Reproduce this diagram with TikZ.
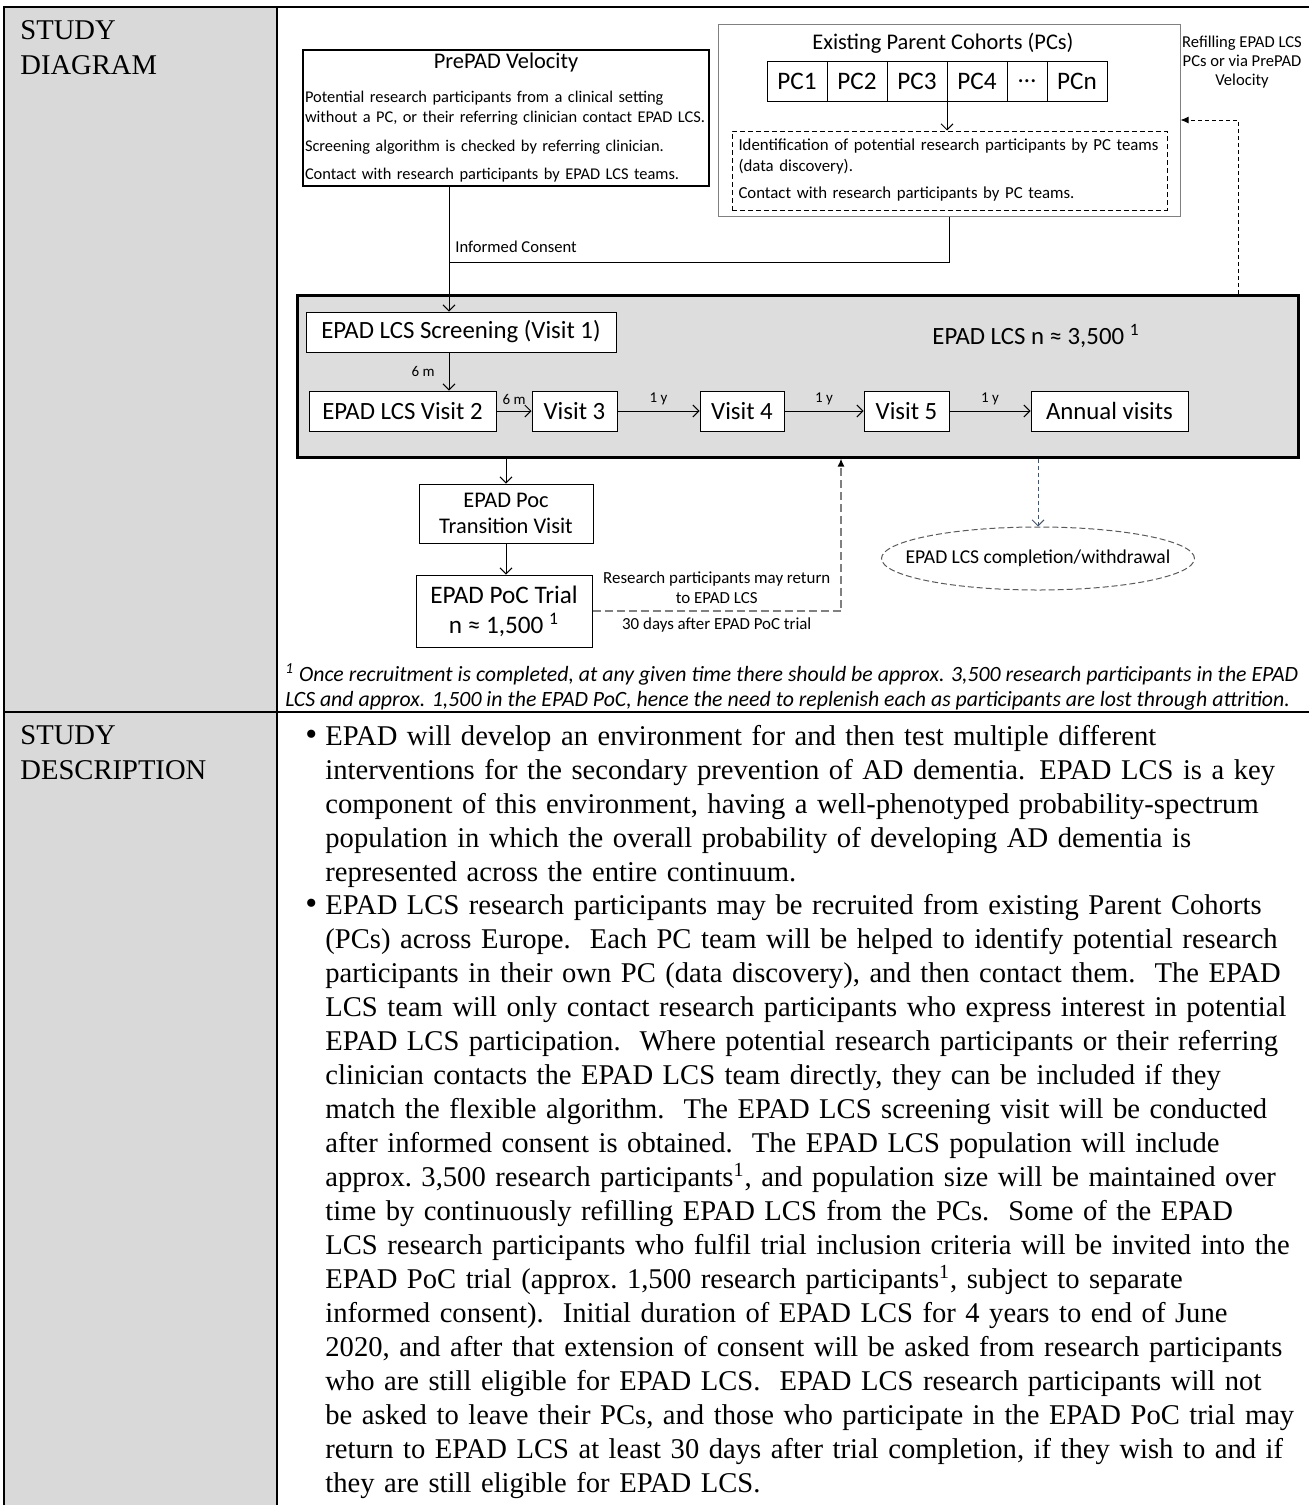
\documentclass[tikz,border=0pt]{standalone}
\usepackage{fontspec}
\setmainfont{Liberation Serif}
\newfontfamily\calibri{Carlito}
\usetikzlibrary{positioning,shapes.geometric,arrows.meta}

\definecolor{tablegray}{HTML}{D9D9D9}
\definecolor{lcsgray}{HTML}{DDDDDD}
\definecolor{framegray}{HTML}{808080}
\definecolor{slate}{HTML}{44546A}

\begin{document}
\begin{tikzpicture}[
  x=0.5pt, y=-0.5pt,
  >={Straight Barb[length=3pt,width=6pt]},
  rule/.style={line width=1pt},
  head/.style={anchor=north west, align=left, inner sep=0pt, font=\fontsize{14.3}{17.5}\selectfont},
  desc/.style={anchor=north west, text width=490pt, align=left, inner sep=0pt, font=\fontsize{14.3}{17}\selectfont},
  dot/.style={anchor=base west, inner sep=0pt, font=\fontsize{17}{17}\selectfont},
  block/.style={rectangle, draw, fill=white, line width=0.5pt, inner sep=1pt, align=center, font=\calibri\fontsize{12.4}{15}\selectfont},
  pc/.style={block, minimum width=30pt, minimum height=20pt, inner sep=0pt, outer sep=0pt, font=\calibri\fontsize{12.6}{14}\selectfont},
  note/.style={inner sep=1pt, align=center, font=\calibri\fontsize{8.3}{9.7}\selectfont},
  gap/.style={inner sep=1pt, font=\calibri\fontsize{7.5}{9}\selectfont},
  flow/.style={->, line width=0.5pt},
  refill/.style={line width=0.5pt, dash pattern=on 2pt off 1.5pt, -{Latex[length=4pt,width=3.5pt]}},
  back/.style={line width=1pt, draw=framegray, dash pattern=on 4pt off 2pt, -{Latex[length=4pt,width=3.5pt,color=black,fill=black]}},
  exit/.style={->, line width=0.5pt, draw=slate, dash pattern=on 2pt off 1.5pt}
]
\useasboundingbox (0,0) rectangle (1309,1505);

% table
\fill[tablegray] (4,7) rectangle (277,1510);
\draw[rule] (4,1510) -- (4,7) -- (1315,7);
\draw[rule] (277,7) -- (277,1510);
\draw[rule] (4,712) -- (1315,712);

\node[head] (diaghead) at (20,20) {STUDY\\DIAGRAM};
\node[head] (deschead) at (20,725) {STUDY\\DESCRIPTION};

% where participants come from
\node[block, line width=1pt, text width=201pt, minimum height=68pt, align=left, inner xsep=1pt, font=\calibri\fontsize{8.2}{10}\selectfont] (prepad) at (506,118) {\vspace*{1.5pt}{\centering\fontsize{11.2}{13}\selectfont PrePAD Velocity\par}\vspace{5.5pt}Potential research participants from a clinical setting\\without a PC, or their referring clinician contact EPAD LCS.\par\vspace{4.5pt}Screening algorithm is checked by referring clinician.\par\vspace{4pt}Contact with research participants by EPAD LCS teams.};

\node[block, draw=framegray, minimum width=231pt, minimum height=96pt] (pcbox) at (949,120) {};
\node[inner sep=0pt, font=\calibri\fontsize{11.2}{13}\selectfont] (pctitle) at (943,43) {Existing Parent Cohorts (PCs)};
\node[pc] (pc1) at (797,81) {PC1};
\node[pc, right=0pt of pc1] (pc2) {PC2};
\node[pc, right=0pt of pc2] (pc3) {PC3};
\node[pc, right=0pt of pc3] (pc4) {PC4};
\node[pc, right=0pt of pc4, minimum width=20pt] (pcdots) {…};
\node[pc, right=0pt of pcdots] (pcn) {PCn};
\node[block, dash pattern=on 2.5pt off 1.5pt, text width=211pt, inner xsep=3.25pt, minimum height=39.5pt, align=left, font=\calibri\fontsize{8.4}{10.5}\selectfont] (pcdash) at (949.5,170.5) {Identification of potential research participants by PC teams\\(data discovery).\par\vspace{3pt}Contact with research participants by PC teams.};
\draw[flow] (pc3.south east) -- (pc3.south east |- pcdash.north);

\node[note] (refilltext) at (1242,62) {Refilling EPAD LCS\\PCs or via PrePAD\\Velocity};

% EPAD LCS visits
\node[block, fill=lcsgray, line width=1.5pt, minimum width=500.5pt, minimum height=81pt] (lcs) at (797.5,376) {};
\node[inner sep=0pt, font=\calibri\fontsize{12.4}{14}\selectfont] (lcstext) at (1036,336) {EPAD LCS n ≈ 3,500 \textsuperscript{1}};
\node[block, minimum width=155pt, minimum height=20pt] (screen) at (461,332) {EPAD LCS Screening (Visit 1)};
\node[block, minimum width=93.5pt, minimum height=20pt] (visit2) at (402.5,411) {EPAD LCS Visit 2};
\node[block, minimum width=42.5pt, minimum height=20pt, right of=visit2, node distance=86pt] (visit3) {Visit 3};
\node[block, minimum width=42pt, minimum height=20pt, right of=visit3, node distance=83.75pt] (visit4) {Visit 4};
\node[block, minimum width=42.5pt, minimum height=20pt, right of=visit4, node distance=82.25pt] (visit5) {Visit 5};
\node[block, minimum width=78.5pt, minimum height=20pt, right of=visit5, node distance=101.5pt] (annual) {Annual visits};

\coordinate (consentx) at (449,0);
\coordinate (consentjoin) at (449,262);
\draw[flow] (consentx |- prepad.south) -- (consentx |- screen.north);
\draw[line width=0.5pt] (pcbox.south) |- (consentjoin);
\node[note, anchor=west] (consent) at (453,247) {Informed Consent};

\draw[flow] (consentx |- screen.south) -- node[gap, left=6pt] {6 m} (consentx |- visit2.north);
\draw[flow] (visit2) -- node[gap, above=2pt] {6 m} (visit3);
\draw[flow] (visit3) -- node[gap, above=2pt] {1 y} (visit4);
\draw[flow] (visit4) -- node[gap, above=2pt] {1 y} (visit5);
\draw[flow] (visit5) -- node[gap, above=2pt] {1 y} (annual);

\coordinate (refillx) at (1238,0);
\draw[refill] (refillx |- lcs.north) |- (pcbox.east);

% PoC branch
\node[block, minimum width=87pt, minimum height=29.5pt, font=\calibri\fontsize{11.2}{13}\selectfont] (trans) at (506,513.5) {EPAD Poc\\Transition Visit};
\node[block, minimum width=88pt, minimum height=36pt, font=\calibri\fontsize{12.6}{15}\selectfont] (poc) at (504,611) {EPAD PoC Trial\\n ≈ 1,500 \textsuperscript{1}};
\draw[flow] (trans.north |- lcs.south) -- (trans.north);
\draw[flow] (trans.south) -- (trans.south |- poc.north);

\coordinate (returnx) at (841,0);
\draw[back] (poc.east) -| node[note, pos=0.25, above=2pt, font=\calibri\fontsize{8.45}{10}\selectfont] {Research participants may return\\to EPAD LCS} node[note, pos=0.25, below=2pt, font=\calibri\fontsize{8.45}{10}\selectfont] {30 days after EPAD PoC trial} (returnx |- lcs.south);

\node[ellipse, draw=black!65, line width=0.5pt, dash pattern=on 3pt off 1.5pt, minimum width=156.5pt, minimum height=31.5pt, inner sep=0pt, label={[font=\calibri\fontsize{9.8}{11}\selectfont]center:EPAD LCS completion/withdrawal}] (done) at (1038,558.5) {};
\draw[exit] (done.north |- lcs.south) -- (done.north);

\node[anchor=north west, align=left, inner sep=0pt, font=\calibri\itshape\fontsize{10.9}{12.5}\selectfont] (footnote) at (285,663) {\textsuperscript{1} Once recruitment is completed, at any given time there should be approx. 3,500 research participants in the EPAD\\LCS and approx. 1,500 in the EPAD PoC, hence the need to replenish each as participants are lost through attrition.};

% study description
\node[desc] (descone) at (325,725) {EPAD will develop an environment for and then test multiple different\\interventions for the secondary prevention of AD dementia. EPAD LCS is a key\\component of this environment, having a well-phenotyped probability-spectrum\\population in which the overall probability of developing AD dementia is\\represented across the entire continuum.};
\node[dot] (dotone) at ([xshift=-10pt]descone.base west) {\textbullet};
\node[desc, below=3pt of descone.south west, anchor=north west] (desctwo) {EPAD LCS research participants may be recruited from existing Parent Cohorts\\(PCs) across Europe.\ \ Each PC team will be helped to identify potential research\\participants in their own PC (data discovery), and then contact them.\ \ The EPAD\\LCS team will only contact research participants who express interest in potential\\EPAD LCS participation.\ \ Where potential research participants or their referring\\clinician contacts the EPAD LCS team directly, they can be included if they\\match the flexible algorithm.\ \ The EPAD LCS screening visit will be conducted\\after informed consent is obtained.\ \ The EPAD LCS population will include\\approx.\ 3,500 research participants\textsuperscript{1}, and population size will be maintained over\\time by continuously refilling EPAD LCS from the PCs.\ \ Some of the EPAD\\LCS research participants who fulfil trial inclusion criteria will be invited into the\\EPAD PoC trial (approx.\ 1,500 research participants\textsuperscript{1}, subject to separate\\informed consent).\ \ Initial duration of EPAD LCS for 4 years to end of June\\2020, and after that extension of consent will be asked from research participants\\who are still eligible for EPAD LCS.\ \ EPAD LCS research participants will not\\be asked to leave their PCs, and those who participate in the EPAD PoC trial may\\return to EPAD LCS at least 30 days after trial completion, if they wish to and if\\they are still eligible for EPAD LCS.};
\node[dot] (dottwo) at ([xshift=-10pt]desctwo.base west) {\textbullet};
\end{tikzpicture}
\end{document}
